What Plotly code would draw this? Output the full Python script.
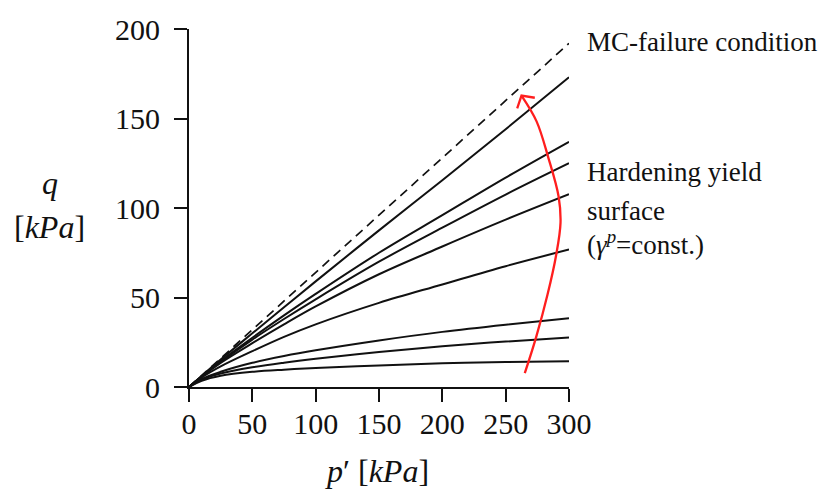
import plotly.graph_objects as go

# p' values (kPa) at which the yield surfaces were read
p_vals = [0, 10, 25, 50, 75, 100, 150, 200, 250, 300]

# hardening yield surfaces, q (kPa), from top to bottom
q_surf1 = [0, 6.2, 15.3, 30, 44.5, 59, 87.5, 115.5, 144, 173]
q_surf2 = [0, 6.0, 14.5, 27.5, 40, 52, 75, 96, 117, 137]
q_surf3 = [0, 5.9, 14.0, 26.5, 38, 49, 70, 89, 107.5, 125]
q_surf4 = [0, 5.8, 13.5, 24.5, 35, 45, 63, 78.5, 93.5, 107.7]
q_surf5 = [0, 5.3, 11.5, 20, 28, 35, 47, 57.3, 67.5, 76.8]
q_surf6 = [0, 4.5, 8.5, 13.5, 17.3, 20.5, 26, 30.8, 34.8, 38.4]
q_surf7 = [0, 4.0, 7.5, 11, 13.6, 15.8, 19.6, 22.8, 25.4, 27.6]
q_surf8 = [0, 3.5, 6.3, 8.5, 9.7, 10.6, 12, 13.2, 14, 14.4]
surfaces = [q_surf1, q_surf2, q_surf3, q_surf4, q_surf5, q_surf6, q_surf7, q_surf8]

# MC failure line
mc_p = [0, 300]
mc_q = [0, 192]

# red hand-drawn arrow path (p, q)
arrow_p = [265.1, 274.0, 283.0, 289.8, 293.3, 291.8, 283.6, 274.4, 262.5]
arrow_q = [7.7, 27.7, 51.5, 73.5, 91.7, 106.4, 128.3, 148.4, 162.8]
head_p = [259.1, 262.5, 273.0]
head_q = [155.7, 162.8, 161.6]

x_ticks = [0, 50, 100, 150, 200, 250, 300]
y_ticks = [0, 50, 100, 150, 200]

FONT = "Liberation Serif"

fig = go.Figure()
fig.add_trace(go.Scatter(x=mc_p, y=mc_q, mode="lines",
                         line=dict(color="#111", width=1.7, dash="9px,6px"),
                         hoverinfo="skip", showlegend=False))
for q in surfaces:
    fig.add_trace(go.Scatter(x=p_vals, y=q, mode="lines",
                             line=dict(color="#111", width=2, shape="spline", smoothing=1.0),
                             hoverinfo="skip", showlegend=False))
fig.add_trace(go.Scatter(x=arrow_p, y=arrow_q, mode="lines",
                         line=dict(color="#ff1e1e", width=2.3, shape="spline", smoothing=1),
                         hoverinfo="skip", showlegend=False, cliponaxis=False))
fig.add_trace(go.Scatter(x=head_p, y=head_q, mode="lines",
                         line=dict(color="#ff1e1e", width=2.3),
                         hoverinfo="skip", showlegend=False, cliponaxis=False))

axis_common = dict(showgrid=False, zeroline=False, showline=True, linecolor="#111",
                   linewidth=2, ticks="outside", ticklen=13, tickwidth=1.7,
                   tickcolor="#111", tickfont=dict(family=FONT, size=30, color="#111"))
fig.update_xaxes(range=[0, 300], tickvals=x_ticks, ticklabelstandoff=-4, **axis_common)
fig.update_yaxes(range=[0, 200], tickvals=y_ticks, ticklabelstandoff=8, **axis_common)

txt = dict(family=FONT, size=27, color="#111")
ann = [
    dict(text="MC-failure condition", x=1.042, y=0.9636, xanchor="left", yanchor="middle", font=txt),
    dict(text="Hardening yield", x=1.042, y=0.6015, xanchor="left", yanchor="middle", font=txt),
    dict(text="surface", x=1.042, y=0.4915, xanchor="left", yanchor="middle", font=txt),
    dict(text="(<i>γ</i><sup><i>p</i></sup>=const.)", x=1.042, y=0.4015, xanchor="left", yanchor="middle", font=txt),
    dict(text="<i>q</i>", x=-0.367, y=0.571, xanchor="center", yanchor="middle",
         font=dict(family=FONT, size=32, color="#111")),
    dict(text="[<i>kPa</i>]", x=-0.367, y=0.448, xanchor="center", yanchor="middle",
         font=dict(family=FONT, size=32, color="#111")),
    dict(text="<i>p</i>′ [<i>kPa</i>]", x=0.494, y=-0.235, xanchor="center", yanchor="middle",
         font=dict(family=FONT, size=32, color="#111")),
]
for a in ann:
    a.update(xref="paper", yref="paper", showarrow=False)

fig.update_layout(width=820, height=493, plot_bgcolor="white", paper_bgcolor="white",
                  margin=dict(l=189, r=251, t=23, b=106), annotations=ann)

fig.write_html("out.html", config={"displayModeBar": False},
               post_script="document.body.style.margin='0';document.body.style.padding='0';")
